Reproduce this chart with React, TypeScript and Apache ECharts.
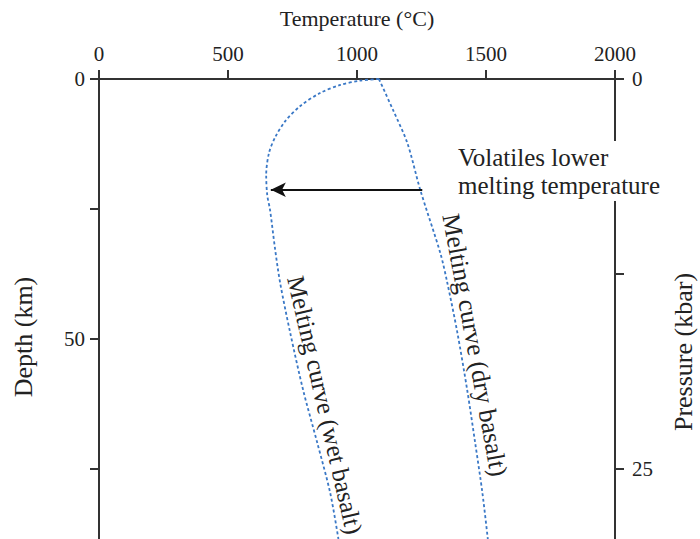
import React, { useEffect, useRef } from "react";
import * as echarts from "echarts";

// Temperature axis (top)
const tempTicks = [0, 500, 1000, 1500, 2000];
// Depth axis (left)
const depthTickValues = [0, 25, 50, 75];
const depthLabelValues = [0, 50];
// Pressure axis (right)
const pressureTickValues = [0, 12.5, 25];
const pressureLabelValues = [0, 25];

// Melting curve (dry basalt)
const tempDry = [1085, 1140, 1195, 1245, 1323, 1350, 1389, 1427, 1458, 1486, 1507];
const depthDry = [0, 6.0, 12.3, 21.3, 33.5, 39.2, 48.8, 59.8, 70.0, 79.6, 88.5];

// Melting curve (wet basalt)
const tempWet = [1085, 1012, 935, 857, 780, 722, 683, 659, 648, 652, 663, 683, 702, 741, 791, 846, 896, 928];
const depthWet = [0, 0.3, 1.15, 2.7, 5.2, 8.1, 11.2, 14.2, 18.5, 22.3, 25.2, 32.9, 39.2, 48.8, 59.8, 70.0, 79.6, 88.5];

// Arrow: volatiles lower melting temperature
const arrowTemp = [1253, 666];
const arrowDepth = [21.3, 21.3];

const FONT = "'Liberation Serif', 'Times New Roman', serif";
const INK = "#222";
const AXIS = "#333";
const CURVE = "#3a78c6";

export default function App() {
  const ref = useRef<HTMLDivElement>(null);

  useEffect(() => {
    document.body.style.margin = "0";
    if (!ref.current) return;
    const chart = echarts.init(ref.current, null, { renderer: "svg" });

    const pairs = (xs: number[], ys: number[]) => xs.map((x, i) => [x, ys[i]]);

    const axisLine = { show: true, lineStyle: { color: AXIS, width: 2 } };
    const axisTick = { show: true, inside: false, length: 9, lineStyle: { color: AXIS, width: 2 } };
    const labelStyle = { color: INK, fontFamily: FONT, fontSize: 21, formatter: (v: number) => String(v) };

    const option: any = {
      animation: false,
      backgroundColor: "#fff",
      grid: { left: 99, right: 85, top: 79, bottom: 0, outerBoundsMode: "none", containLabel: false },
      xAxis: {
        type: "value",
        position: "top",
        min: tempTicks[0],
        max: tempTicks[tempTicks.length - 1],
        interval: 500,
        name: "Temperature (°C)",
        nameLocation: "middle",
        nameGap: 50,
        nameTextStyle: { color: INK, fontFamily: FONT, fontSize: 22 },
        axisLine,
        axisTick,
        axisLabel: { ...labelStyle, margin: 15 },
        splitLine: { show: false },
      },
      yAxis: [
        {
          type: "value",
          position: "left",
          inverse: true,
          min: 0,
          max: 88.5,
          axisLine,
          axisTick: { ...axisTick, customValues: depthTickValues },
          axisLabel: { ...labelStyle, margin: 14, customValues: depthLabelValues },
          splitLine: { show: false },
        },
        {
          type: "value",
          position: "right",
          inverse: true,
          min: 0,
          max: 29.5,
          axisLine,
          axisTick: { ...axisTick, customValues: pressureTickValues },
          axisLabel: { ...labelStyle, margin: 17, customValues: pressureLabelValues },
          splitLine: { show: false },
        },
      ],
      series: [
        {
          type: "line",
          name: "Melting curve (dry basalt)",
          data: pairs(tempDry, depthDry),
          showSymbol: false,
          symbol: "none",
          smooth: 0.3,
          lineStyle: { color: CURVE, width: 1.8, type: [3, 2.5] },
          silent: true,
          z: 3,
        },
        {
          type: "line",
          name: "Melting curve (wet basalt)",
          data: pairs(tempWet, depthWet),
          showSymbol: false,
          symbol: "none",
          smooth: 0.3,
          lineStyle: { color: CURVE, width: 1.8, type: [3, 2.5] },
          silent: true,
          z: 3,
          markLine: {
            silent: true,
            symbol: ["none", "arrow"],
            symbolSize: [11, 15],
            label: { show: false },
            lineStyle: { color: "#111", width: 2, type: "solid" },
            data: [
              [
                { coord: [arrowTemp[0], arrowDepth[0]] },
                { coord: [arrowTemp[1], arrowDepth[1]] },
              ],
            ],
          },
        },
      ],
      graphic: [
        {
          type: "text",
          x: 23,
          y: 337,
          rotation: Math.PI / 2,
          z: 100,
          style: {
            text: "Depth (km)",
            fill: INK,
            font: `26px ${FONT}`,
            align: "center",
            verticalAlign: "middle",
          },
        },
        {
          type: "text",
          x: 683,
          y: 352,
          rotation: Math.PI / 2,
          z: 100,
          style: {
            text: "Pressure (kbar)",
            fill: INK,
            font: `26px ${FONT}`,
            align: "center",
            verticalAlign: "middle",
          },
        },
        {
          type: "text",
          x: 455,
          y: 141,
          z: 100,
          style: {
            text: "Volatiles lower\nmelting temperature",
            fill: INK,
            font: `25px ${FONT}`,
            lineHeight: 28,
            align: "left",
            verticalAlign: "top",
            backgroundColor: "#fff",
            padding: [2, 3, 2, 3],
          },
        },
        {
          type: "text",
          x: 475,
          y: 345,
          rotation: (-79.5 * Math.PI) / 180,
          z: 100,
          style: {
            text: "Melting curve (dry basalt)",
            fill: INK,
            font: `25.5px ${FONT}`,
            align: "center",
            verticalAlign: "middle",
          },
        },
        {
          type: "text",
          x: 325,
          y: 405,
          rotation: (-77 * Math.PI) / 180,
          z: 100,
          style: {
            text: "Melting curve (wet basalt)",
            fill: INK,
            font: `25px ${FONT}`,
            align: "center",
            verticalAlign: "middle",
          },
        },
      ],
    };

    chart.setOption(option);
    return () => chart.dispose();
  }, []);

  return <div ref={ref} style={{ width: 700, height: 539 }} />;
}
